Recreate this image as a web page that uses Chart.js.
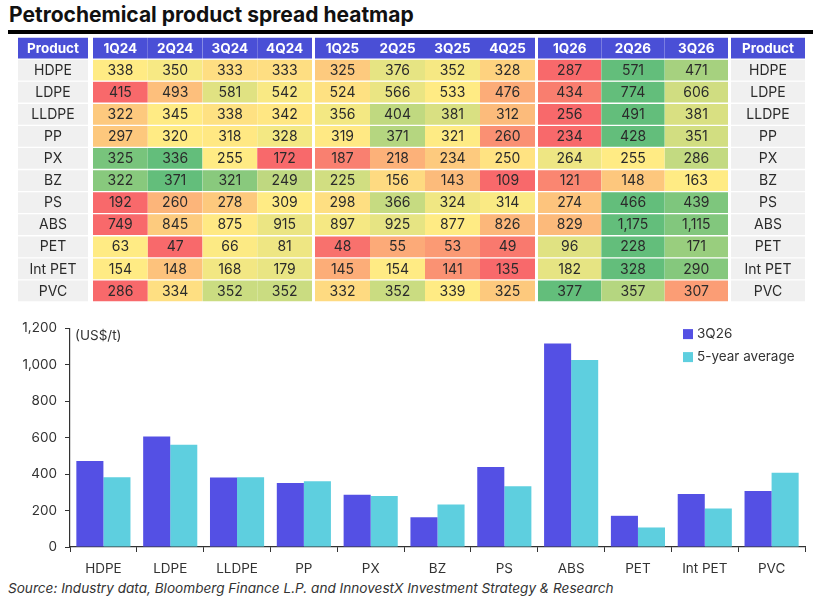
<!DOCTYPE html>
<html lang="en">
<head>
    <meta charset="UTF-8">
    <title>Petrochemical product spread heatmap</title>
    <script src="https://cdn.jsdelivr.net/npm/chart.js"></script>
    <style>
        body { margin: 0; background: #fff; font-family: Inter, "Noto Sans", sans-serif; color: #333; }
        #page { position: relative; width: 814px; height: 604px; overflow: hidden; }
        .abs { position: absolute; }
        #title { left: 9px; top: 2px; font-size: 21px; font-weight: 700; color: #111; white-space: nowrap; }
        #rule { left: 8px; top: 30px; width: 805px; height: 3.5px; background: #000; }
        .heat { top: 37px; height: 265px; }
        #source { left: 8px; top: 580px; font-size: 13.6px; font-style: italic; color: #333; white-space: nowrap; }
    </style>
</head>
<body>
<div id="page">
    <div id="title" class="abs">Petrochemical product spread heatmap</div>
    <div id="rule" class="abs"></div>

    <div class="abs heat" style="left:18px;width:70px"><canvas id="hmLeft"></canvas></div>
    <div class="abs heat" style="left:93px;width:219px"><canvas id="hm24"></canvas></div>
    <div class="abs heat" style="left:315px;width:220px"><canvas id="hm25"></canvas></div>
    <div class="abs heat" style="left:538px;width:190px"><canvas id="hm26"></canvas></div>
    <div class="abs heat" style="left:731px;width:74px"><canvas id="hmRight"></canvas></div>

    <div class="abs" style="left:0;top:312px;width:814px;height:265px"><canvas id="bars"></canvas></div>
    <div id="source" class="abs">Source: Industry data, Bloomberg Finance L.P. and InnovestX Investment Strategy &amp; Research</div>
</div>

<script>
    const products = ['HDPE', 'LDPE', 'LLDPE', 'PP', 'PX', 'BZ', 'PS', 'ABS', 'PET', 'Int PET', 'PVC'];
    const quarters = ['1Q24', '2Q24', '3Q24', '4Q24', '1Q25', '2Q25', '3Q25', '4Q25', '1Q26', '2Q26', '3Q26'];

    // spreads by product, one value per quarter (US$/t)
    const hdpe   = [338, 350, 333, 333, 325, 376, 352, 328, 287, 571, 471];
    const ldpe   = [415, 493, 581, 542, 524, 566, 533, 476, 434, 774, 606];
    const lldpe  = [322, 345, 338, 342, 356, 404, 381, 312, 256, 491, 381];
    const pp     = [297, 320, 318, 328, 319, 371, 321, 260, 234, 428, 351];
    const px     = [325, 336, 255, 172, 187, 218, 234, 250, 264, 255, 286];
    const bz     = [322, 371, 321, 249, 225, 156, 143, 109, 121, 148, 163];
    const ps     = [192, 260, 278, 309, 298, 366, 324, 314, 274, 466, 439];
    const abs    = [749, 845, 875, 915, 897, 925, 877, 826, 829, 1175, 1115];
    const pet    = [63, 47, 66, 81, 48, 55, 53, 49, 96, 228, 171];
    const intPet = [154, 148, 168, 179, 145, 154, 141, 135, 182, 328, 290];
    const pvc    = [286, 334, 352, 352, 332, 352, 339, 325, 377, 357, 307];

    const fiveYearAvg = [383, 560, 383, 360, 280, 233, 333, 1025, 107, 211, 407];

    const spreadRows = [hdpe, ldpe, lldpe, pp, px, bz, ps, abs, pet, intPet, pvc];
    const latestQuarter = quarters.length - 1;

    const HEADER_BLUE = '#4a4fd6';
    const PRODUCT_GREY = '#f0f0f0';
    const RED = [248, 105, 107], YELLOW = [255, 235, 132], GREEN = [99, 190, 123];
    const FONT = 'Inter, "Noto Sans", sans-serif';

    const fmt = v => v.toLocaleString('en-US');

    // Excel-style 3 colour scale, per product row (min red, median yellow, max green)
    function scaleColour(v, row) {
        const s = [...row].sort((a, b) => a - b);
        const lo = s[0], mid = s[Math.floor(s.length / 2)], hi = s[s.length - 1];
        let a, b, t;
        if (v <= mid) { a = RED; b = YELLOW; t = mid === lo ? 1 : (v - lo) / (mid - lo); }
        else { a = YELLOW; b = GREEN; t = (v - mid) / (hi - mid); }
        const c = a.map((x, i) => Math.round(x + (b[i] - x) * t));
        return `rgb(${c[0]},${c[1]},${c[2]})`;
    }

    const cellText = {
        id: 'cellText',
        afterDatasetsDraw(chart) {
            const ctx = chart.ctx;
            chart.data.datasets.forEach((ds, i) => {
                chart.getDatasetMeta(i).data.forEach((bar, j) => {
                    const p = bar.getProps(['x', 'y', 'base'], true);
                    ctx.save();
                    ctx.font = ds.cellFont;
                    ctx.fillStyle = ds.cellColour;
                    ctx.textAlign = 'center';
                    ctx.textBaseline = 'middle';
                    ctx.fillText(ds.cells[j], p.x, (p.y + p.base) / 2 + 0.5);
                    ctx.restore();
                });
            });
        }
    };

    // one small stacked bar chart per column group; every cell is a unit bar
    function heatChart(id, headers, cellFor, colourFor) {
        const datasets = [{
            data: headers.map(() => 1),
            backgroundColor: headers.map(() => HEADER_BLUE),
            cells: headers,
            cellColour: '#fff',
            cellFont: `700 13.5px ${FONT}`
        }];
        products.forEach((p, r) => {
            datasets.push({
                data: headers.map(() => 1),
                backgroundColor: headers.map((h, c) => colourFor(r, c)),
                cells: headers.map((h, c) => cellFor(r, c)),
                cellColour: '#2b2b2b',
                cellFont: `400 14px ${FONT}`
            });
        });
        new Chart(document.getElementById(id), {
            type: 'bar',
            data: { labels: headers, datasets },
            options: {
                responsive: true,
                maintainAspectRatio: false,
                animation: false,
                events: [],
                layout: { padding: 0 },
                plugins: { legend: { display: false }, tooltip: { enabled: false } },
                datasets: {
                    bar: {
                        barPercentage: 1,
                        categoryPercentage: 1,
                        borderSkipped: false,
                        borderColor: '#fff',
                        borderWidth: { top: 1, bottom: 1, left: 0, right: 0 }
                    }
                },
                scales: {
                    x: { stacked: true, display: false },
                    y: { stacked: true, display: false, reverse: true, min: 0, max: products.length + 1 }
                }
            },
            plugins: [cellText]
        });
    }

    function quarterGroup(id, from, to) {
        const cols = quarters.slice(from, to);
        heatChart(id, cols,
            (r, c) => fmt(spreadRows[r][from + c]),
            (r, c) => scaleColour(spreadRows[r][from + c], spreadRows[r]));
    }

    heatChart('hmLeft', ['Product'], r => products[r], () => PRODUCT_GREY);
    quarterGroup('hm24', 0, 4);
    quarterGroup('hm25', 4, 8);
    quarterGroup('hm26', 8, 11);
    heatChart('hmRight', ['Product'], r => products[r], () => PRODUCT_GREY);

    // bar chart: latest quarter vs 5-year average
    const barExtras = {
        id: 'barExtras',
        afterDraw(chart) {
            const { ctx, chartArea: a } = chart;
            ctx.save();
            ctx.font = `400 13.5px ${FONT}`;
            ctx.fillStyle = '#333';
            ctx.textBaseline = 'middle';
            ctx.fillText('(US$/t)', a.left + 5, a.top + 8);
            chart.data.datasets.forEach((ds, i) => {
                const y = a.top + 6 + i * 23;
                ctx.fillStyle = ds.backgroundColor;
                ctx.fillRect(a.right - 122, y - 5, 10, 10);
                ctx.fillStyle = '#333';
                ctx.fillText(ds.label, a.right - 108, y);
            });
            ctx.restore();
        }
    };

    new Chart(document.getElementById('bars'), {
        type: 'bar',
        data: {
            labels: products,
            datasets: [
                { label: quarters[latestQuarter], data: spreadRows.map(r => r[latestQuarter]), backgroundColor: '#5450e4' },
                { label: '5-year average', data: fiveYearAvg, backgroundColor: '#5ecfdf' }
            ]
        },
        options: {
            responsive: true,
            maintainAspectRatio: false,
            animation: false,
            events: [],
            layout: { padding: { top: 13, right: 9, left: 0, bottom: 0 } },
            datasets: { bar: { barPercentage: 1, categoryPercentage: 0.81 } },
            plugins: { legend: { display: false }, tooltip: { enabled: false } },
            scales: {
                x: {
                    afterFit: s => { s.height = 30; },
                    grid: { drawOnChartArea: false, tickLength: 5, color: '#333', offset: true },
                    border: { color: '#333', width: 1.2 },
                    ticks: { color: '#333', padding: 9, font: { family: FONT, size: 13.5 } }
                },
                y: {
                    min: 0,
                    max: 1200,
                    afterFit: s => { s.width = 70; },
                    grid: { drawOnChartArea: false, tickLength: 5, color: '#333' },
                    border: { color: '#333', width: 1.2 },
                    ticks: { stepSize: 200, color: '#333', padding: 8, font: { family: FONT, size: 13.5 }, callback: v => fmt(v) }
                }
            }
        },
        plugins: [barExtras]
    });
</script>
</body>
</html>
